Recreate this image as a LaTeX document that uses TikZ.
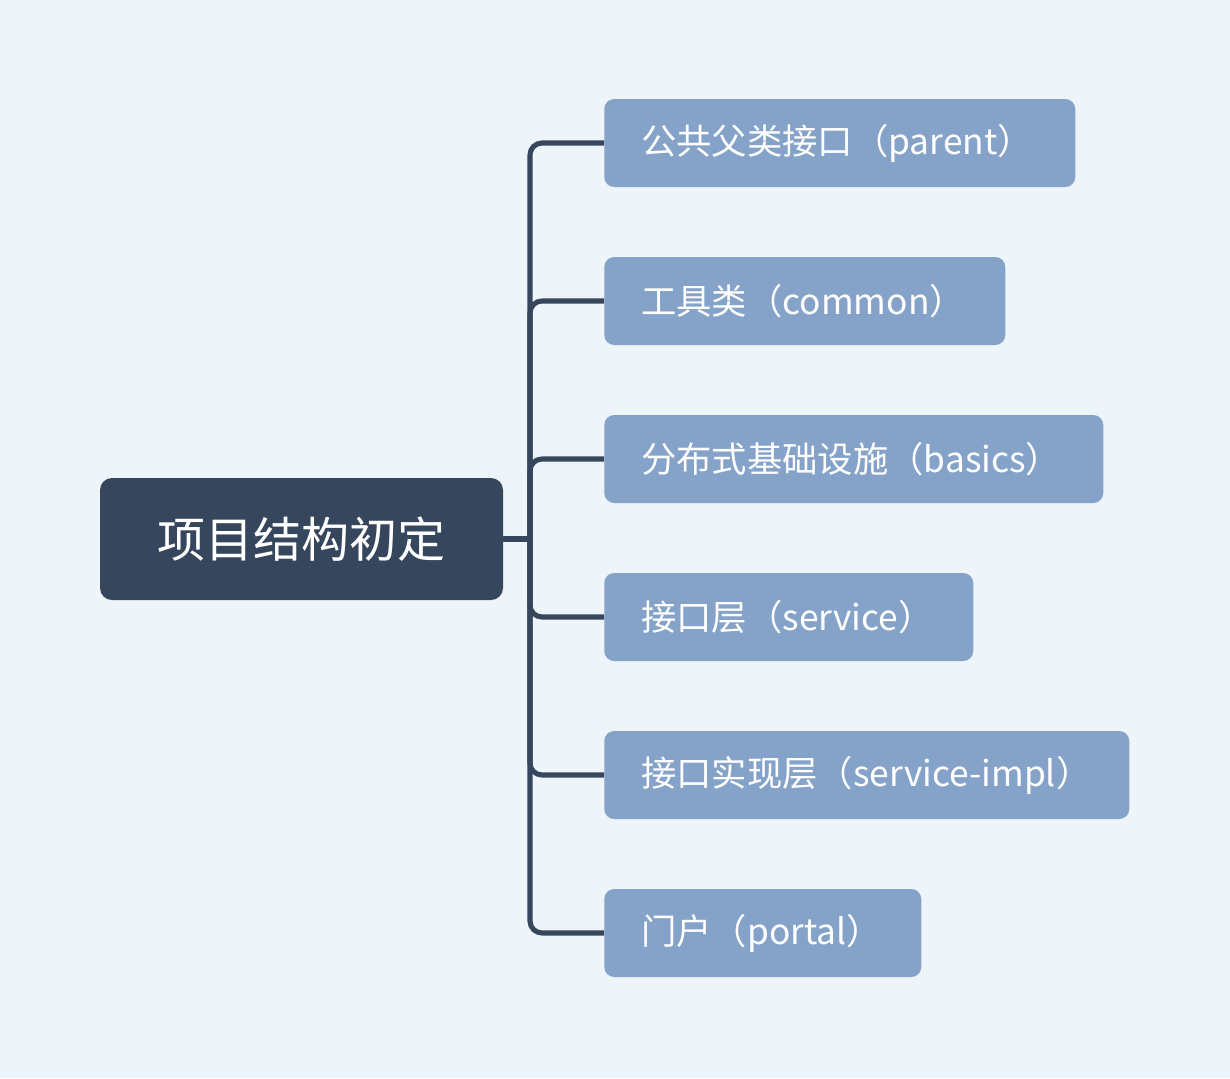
\documentclass[tikz,border=0pt]{standalone}
\usepackage{fontspec}
\setmainfont{Noto Sans CJK SC}
\definecolor{bgblue}{HTML}{EDF4FA}
\definecolor{rootblue}{HTML}{35465D}
\definecolor{leafblue}{HTML}{85A2C8}
\begin{document}
\begin{tikzpicture}[
        x=0.75pt, y=-0.75pt,
        rootbox/.style={fill=rootblue, text=white, rounded corners=9pt, font=\fontsize{36}{42}\selectfont,
            minimum width=302.25pt, minimum height=91.5pt, inner sep=0pt},
        leafbox/.style={fill=leafblue, text=white, rounded corners=7.5pt, font=\fontsize{26.5}{32}\selectfont,
            anchor=west, minimum height=66pt, inner xsep=27.75pt, inner ysep=0pt, align=left},
        branch/.style={draw=rootblue, line width=3.8pt, rounded corners=9pt}
    ]
        % background and bounds
        \fill[bgblue] (0,0) rectangle (1230,1078);
        \useasboundingbox (0,0) rectangle (1230,1078);
        % root
        \node[rootbox] (root) at (301.5,539) {项目结构初定};
        % leaves
        \node[leafbox, text width=297.75pt] (parent) at (604,143) {公共父类接口（parent）};
        \node[leafbox, text width=245.25pt] (common) at (604,301) {工具类（common）};
        \node[leafbox, text width=318.75pt] (basics) at (604,459) {分布式基础设施（basics）};
        \node[leafbox, text width=221.25pt] (service) at (604,617) {接口层（service）};
        \node[leafbox, text width=338.25pt] (impl) at (604,775) {接口实现层（service-impl）};
        \node[leafbox, text width=182.25pt] (portal) at (604,933) {门户（portal）};
        % connectors
        \coordinate (trunk) at (530,539);
        \draw[branch] (root.east) -- (trunk);
        \foreach \leaf in {parent,common,basics,service,impl,portal}
            \draw[branch] (trunk) |- (\leaf.west);
\end{tikzpicture}
\end{document}
